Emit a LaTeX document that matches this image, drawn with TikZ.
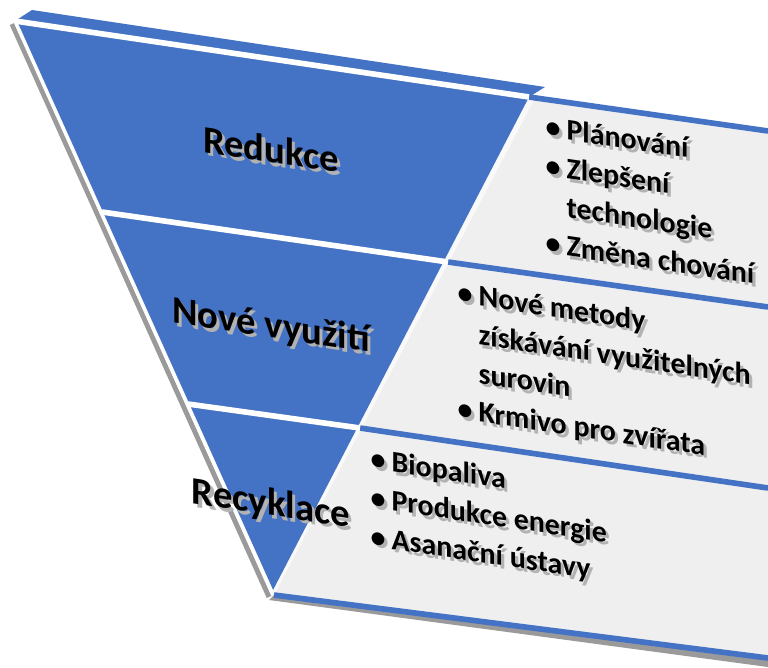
\documentclass[tikz,border=0pt]{standalone}
\usepackage{fontspec}
\setmainfont{Carlito}
\usetikzlibrary{calc}

\definecolor{pyrblue}{HTML}{4472C4}
\definecolor{boxgrey}{HTML}{EFEFEF}
\definecolor{edgegrey}{HTML}{9A9A9A}

\tikzset{
  level/.style={font=\bfseries\fontsize{11}{13}\selectfont, yslant=-0.15, inner sep=0pt},
  items/.style={font=\bfseries\fontsize{8.5}{11}\selectfont, yslant=-0.148, align=left,
                anchor=north west, inner sep=0pt},
}
\newcommand{\itm}{\textbullet\hspace{0.2em}}
\newcommand{\cont}{\hphantom{\textbullet\hspace{0.2em}}}

\begin{document}
\begin{tikzpicture}[x=0.01cm,y=-0.01cm]
\useasboundingbox (0,0) rectangle (768,667);

% corners of the pyramid and the boxes
\coordinate (tl) at (15,21);
\coordinate (tr) at (529,97);
\coordinate (apex) at (272,592);
\coordinate (d1l) at (102,212);
\coordinate (d1r) at (448,262);
\coordinate (d2l) at (188,404);
\coordinate (d2r) at (360,428);
\coordinate (br) at (768,131);
\coordinate (e1) at (768,307);
\coordinate (e2) at (768,488);
\coordinate (bl) at (274,595);
\coordinate (bb) at (768,658);

% grey box with its lower side
\fill[edgegrey] (bl) -- (bb) -- (768,667) -- (269,600) -- cycle;
\fill[boxgrey] (tr) -- (br) -- (bb) -- (bl) -- (apex) -- cycle;
\fill[white!60!boxgrey] (tr) -- (apex) -- (bl) -- ($(tr)+(6,1)$) -- cycle;
\draw[pyrblue, line width=1.6pt] (tr) -- (br);
\draw[pyrblue, line width=1.6pt] (d1r) -- (e1);
\draw[pyrblue, line width=1.6pt] (d2r) -- (e2);
\draw[pyrblue, line width=1.6pt] (bl) -- (bb);

% blue pyramid, top face and left side
\fill[pyrblue] (tl) -- (32,10) -- (545,87) -- (tr) -- cycle;
\draw[edgegrey, line width=1.4pt] (12,24) -- (269,597);
\fill[pyrblue] (tl) -- (tr) -- (apex) -- cycle;
\draw[white, line width=1pt] (tl) -- (apex);
\draw[white, line width=1.6pt] (tl) -- (tr);
\draw[white, line width=1.6pt] (d1l) -- (d1r);
\draw[white, line width=1.6pt] (d2l) -- (d2r);

% level names and lists, with their shadows
\foreach \sh/\col in {0.9/black!30, 0/black}{
  \node[level, text=\col, xshift=\sh pt, yshift=-\sh pt] (redukce) at (271,149) {Redukce};
  \node[level, text=\col, xshift=\sh pt, yshift=-\sh pt] (vyuziti) at (271,327) {Nové využití};
  \node[level, text=\col, xshift=\sh pt, yshift=-\sh pt] (recyklace) at (271,505) {Recyklace};
  \node[items, text=\col, xshift=\sh pt, yshift=-\sh pt] (list1) at (545,115)
    {\itm Plánování\\ \itm Zlepšení\\ \cont technologie\\ \itm Změna chování};
  \node[items, text=\col, xshift=\sh pt, yshift=-\sh pt] (list2) at (457,281)
    {\itm Nové metody\\ \cont získávání využitelných\\ \cont surovin\\ \itm Krmivo pro zvířata};
  \node[items, text=\col, xshift=\sh pt, yshift=-\sh pt] (list3) at (370,447)
    {\itm Biopaliva\\ \itm Produkce energie\\ \itm Asanační ústavy};
}
\end{tikzpicture}
\end{document}
